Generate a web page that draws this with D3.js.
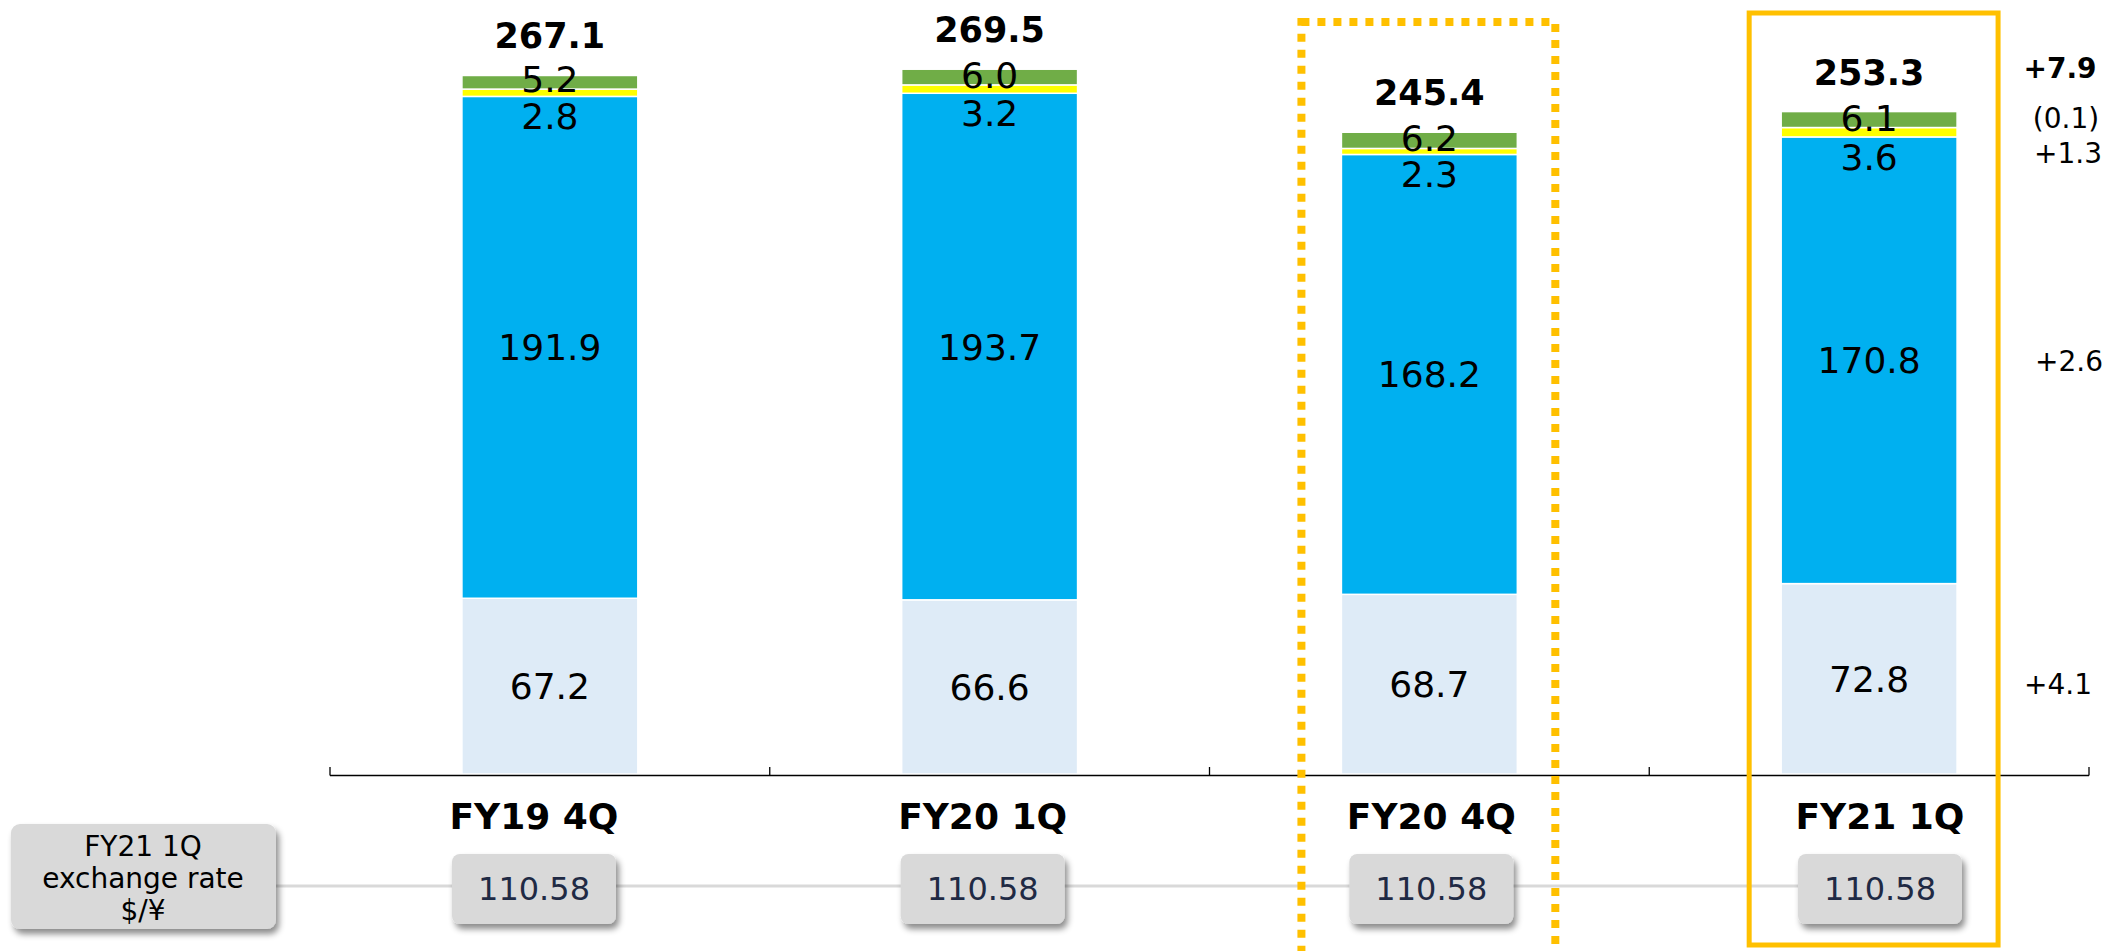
<!DOCTYPE html>
<html>
<head>
<meta charset="utf-8">
<script src="https://cdn.jsdelivr.net/npm/d3@7"></script>
<style>
  body { margin: 0; background: #fff; }
  svg { display: block; font-family: "DejaVu Sans", Verdana, sans-serif; }
</style>
</head>
<body>
<svg id="chart" width="2111" height="951"></svg>
<script>
// datos
var categories = ["FY19 4Q", "FY20 1Q", "FY20 4Q", "FY21 1Q"];
var seriesNames = ["base", "main", "small", "other"];
var baseValues = [67.2, 66.6, 68.7, 72.8];
var mainValues = [191.9, 193.7, 168.2, 170.8];
var smallValues = [2.8, 3.2, 2.3, 3.6];
var otherValues = [5.2, 6.0, 6.2, 6.1];
var totals = [267.1, 269.5, 245.4, 253.3];
var rates = ["110.58", "110.58", "110.58", "110.58"];
var rateTitle = ["FY21 1Q", "exchange rate", "$/\u00a5"];

var colors = { base: "#DEEBF7", main: "#00B0F0", small: "#FFFF00", other: "#70AD47" };

var svg = d3.select("#chart");

var x = d3.scaleBand()
    .domain(categories)
    .range([330, 2089])
    .paddingInner(0.6)
    .paddingOuter(0.3);
// fila de abajo (categorias y cajas) va un poco mas abierta
var xRow = d3.scalePoint()
    .domain(categories)
    .range([534, 1880]);
var y = d3.scaleLinear()
    .domain([0, 290])
    .range([774, 15.6]);

var rows = categories.map(function(c, i) {
    return { cat: c, base: baseValues[i], main: mainValues[i], small: smallValues[i], other: otherValues[i], total: totals[i] };
});
var stacked = d3.stack().keys(seriesNames)(rows);

// sombra para las cajas
var defs = svg.append("defs");
var f = defs.append("filter").attr("id", "shadow").attr("x", "-20%").attr("y", "-20%").attr("width", "150%").attr("height", "160%");
f.append("feDropShadow").attr("dx", 3).attr("dy", 5).attr("stdDeviation", 3)
    .attr("flood-color", "#000").attr("flood-opacity", 0.45);

// barras
svg.append("g").selectAll("g")
    .data(stacked)
    .enter().append("g")
    .attr("fill", function(d) { return colors[d.key]; })
    .selectAll("rect")
    .data(function(d) { return d; })
    .enter().append("rect")
    .attr("x", function(d) { return x(d.data.cat); })
    .attr("y", function(d) { return y(d[1]); })
    .attr("width", x.bandwidth())
    .attr("height", function(d) { return y(d[0]) - y(d[1]); })
    .attr("stroke", "#fff")
    .attr("stroke-width", 1.5);

// eje
var step = x.step();
svg.append("line")
    .attr("x1", x.range()[0]).attr("x2", x.range()[1])
    .attr("y1", y(0) + 1.5).attr("y2", y(0) + 1.5)
    .attr("stroke", "#000").attr("stroke-width", 1.3);
var tickPos = categories.map(function(c) { return x(c) - step * 0.3; }).concat([x.range()[1]]);
svg.append("g").selectAll("line")
    .data(tickPos)
    .enter().append("line")
    .attr("x1", function(d) { return d; }).attr("x2", function(d) { return d; })
    .attr("y1", y(0) + 1.5).attr("y2", y(0) - 7)
    .attr("stroke", "#000").attr("stroke-width", 1.3);

// etiquetas de segmentos
var cx = function(c) { return x(c) + x.bandwidth() / 2; };
var labels = svg.append("g").attr("text-anchor", "middle").attr("font-size", 36).attr("fill", "#000");
rows.forEach(function(r, i) {
    var st = stacked.map(function(s) { return s[i]; });
    labels.append("text").attr("x", cx(r.cat)).attr("y", (y(st[0][0]) + y(st[0][1])) / 2 + 13).text(r.base.toFixed(1));
    labels.append("text").attr("x", cx(r.cat)).attr("y", (y(st[1][0]) + y(st[1][1])) / 2 + 13).text(r.main.toFixed(1));
    labels.append("text").attr("x", cx(r.cat)).attr("y", y(st[1][1]) + 33).text(r.small.toFixed(1));
    labels.append("text").attr("x", cx(r.cat)).attr("y", y(st[2][1]) + 3).text(r.other.toFixed(1));
    labels.append("text").attr("x", cx(r.cat)).attr("y", y(st[3][1]) - 27)
        .attr("font-weight", "bold").attr("font-size", 35).text(r.total.toFixed(1));
});

// diferencias FY21 1Q vs FY20 4Q
var fmt = function(v) { return v < 0 ? "(" + Math.abs(v).toFixed(1) + ")" : "+" + v.toFixed(1); };
var last = 3, prev = 2;
var s4 = stacked.map(function(s) { return s[last]; });
var diffs = svg.append("g").attr("text-anchor", "middle").attr("font-size", 28).attr("fill", "#000");
diffs.append("text").attr("x", 2060).attr("y", y(totals[last]) - 34).attr("font-weight", "bold")
    .text(fmt(totals[last] - totals[prev]));
diffs.append("text").attr("x", 2066).attr("y", y(s4[3][1]) + 16).text(fmt(otherValues[last] - otherValues[prev]));
diffs.append("text").attr("x", 2068).attr("y", y(s4[3][1]) + 51).text(fmt(smallValues[last] - smallValues[prev]));
diffs.append("text").attr("x", 2069).attr("y", (y(s4[1][0]) + y(s4[1][1])) / 2 + 11).text(fmt(mainValues[last] - mainValues[prev]));
diffs.append("text").attr("x", 2058).attr("y", (y(s4[0][0]) + y(s4[0][1])) / 2 + 15).text(fmt(baseValues[last] - baseValues[prev]));

// categorias
svg.append("g").selectAll("text")
    .data(categories)
    .enter().append("text")
    .attr("x", function(d) { return xRow(d); })
    .attr("y", 829)
    .attr("text-anchor", "middle")
    .attr("font-weight", "bold")
    .attr("font-size", 36)
    .text(function(d) { return d; });

// linea de tipo de cambio
svg.append("line")
    .attr("x1", 276).attr("x2", xRow(categories[3]))
    .attr("y1", 886).attr("y2", 886)
    .attr("stroke", "#D9D9D9").attr("stroke-width", 3);

// caja izquierda
svg.append("rect")
    .attr("x", 11).attr("y", 824).attr("width", 265).attr("height", 105)
    .attr("rx", 9).attr("fill", "#D9D9D9").attr("filter", "url(#shadow)");
svg.append("g").attr("text-anchor", "middle").attr("font-size", 28).attr("fill", "#000")
    .selectAll("text")
    .data(rateTitle)
    .enter().append("text")
    .attr("x", 143)
    .attr("y", function(d, i) { return 856 + i * 32; })
    .text(function(d) { return d; });

// cajas de valores
var rateBox = svg.append("g").selectAll("g")
    .data(categories)
    .enter().append("g")
    .attr("transform", function(d) { return "translate(" + xRow(d) + ",889)"; });
rateBox.append("rect")
    .attr("x", -82).attr("y", -35).attr("width", 164).attr("height", 70)
    .attr("rx", 8).attr("fill", "#D9D9D9").attr("filter", "url(#shadow)");
rateBox.append("text")
    .attr("text-anchor", "middle")
    .attr("y", 11)
    .attr("font-size", 32)
    .attr("fill", "#1F2A44")
    .text(function(d, i) { return rates[i]; });

// marcos de resaltado
svg.append("rect")
    .attr("x", x(categories[2]) - 40).attr("y", 22)
    .attr("width", x.bandwidth() + 78).attr("height", 940)
    .attr("fill", "none").attr("stroke", "#FFC000").attr("stroke-width", 8)
    .attr("stroke-dasharray", "8,8");
svg.append("rect")
    .attr("x", x(categories[3]) - 32).attr("y", 13)
    .attr("width", x.bandwidth() + 73).attr("height", 932)
    .attr("fill", "none").attr("stroke", "#FFC000").attr("stroke-width", 5);
</script>
</body>
</html>
